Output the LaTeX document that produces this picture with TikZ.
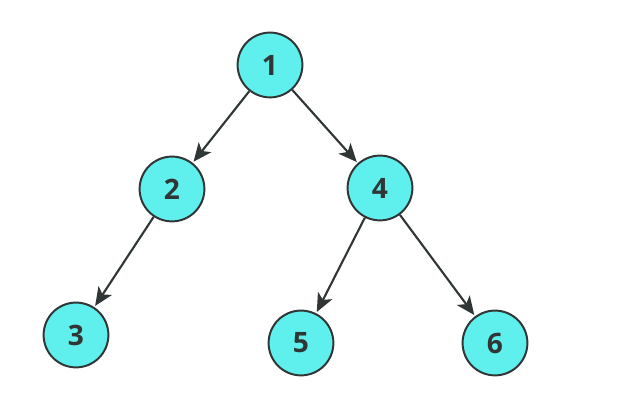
\documentclass[tikz,border=0pt]{standalone}
\usepackage{fontspec}
\setsansfont{Open Sans}
\usetikzlibrary{arrows.meta}
\definecolor{nodecyan}{HTML}{5FF0EE}
\definecolor{edgegray}{HTML}{303535}

\begin{document}
\begin{tikzpicture}[
    treenode/.style={circle, draw=edgegray, fill=nodecyan, line width=1.4pt, minimum size=1.62cm, inner sep=0pt, font=\fontsize{20}{20}\selectfont\sffamily\bfseries, text=edgegray},
    edge/.style={-{Stealth[length=4.6mm, width=4mm, inset=1.2mm]}, edgegray, line width=1.5pt, shorten >=1pt}
]

\useasboundingbox (0, 0) rectangle (15.55, 10);

% Nodes
\node[treenode] (n1) at (6.75, 8.375) {1};
\node[treenode] (n2) at (4.3, 5.275) {2};
\node[treenode] (n4) at (9.5, 5.3) {4};
\node[treenode] (n3) at (1.9, 1.625) {3};
\node[treenode] (n5) at (7.525, 1.425) {5};
\node[treenode] (n6) at (12.375, 1.425) {6};

% Edges
\draw[edge] (n1) -- (n2);
\draw[edge] (n1) -- (n4);
\draw[edge] (n2) -- (n3);
\draw[edge] (n4) -- (n5);
\draw[edge] (n4) -- (n6);

\end{tikzpicture}
\end{document}
